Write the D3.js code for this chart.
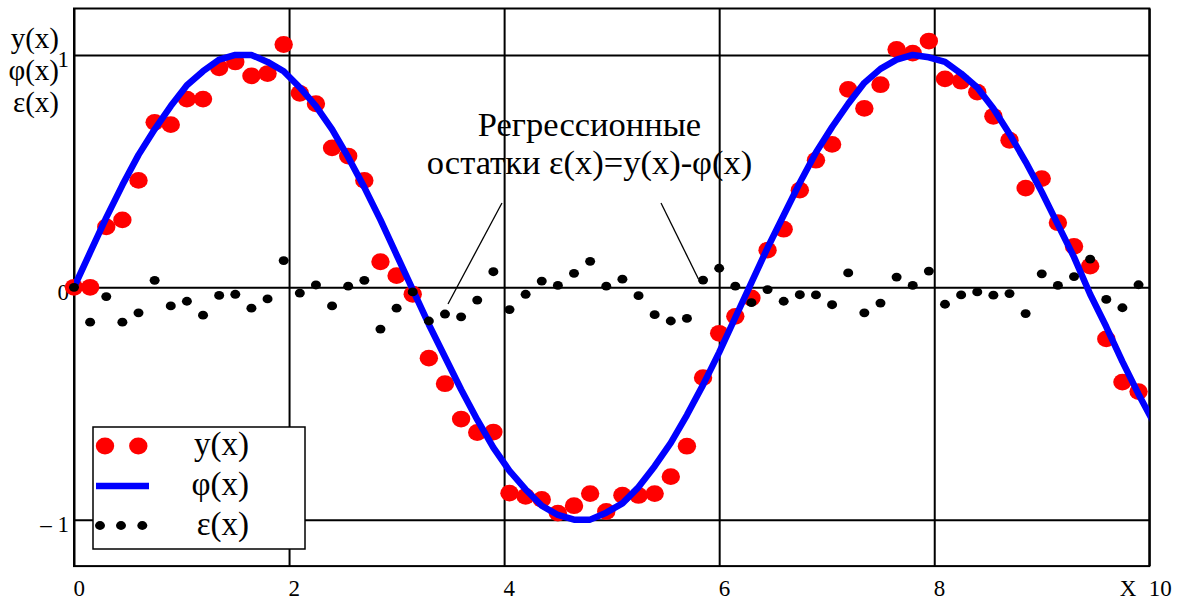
<!DOCTYPE html>
<html>
<head>
<meta charset="utf-8">
<script src="https://cdn.jsdelivr.net/npm/d3@7"></script>
<style>
  body { margin: 0; background: #fff; }
  svg text { font-family: "Liberation Serif", "Times New Roman", serif; fill: #000; }
</style>
</head>
<body>
<svg id="chart" width="1178" height="601"></svg>
<script>
// Sample points x, measured values y(x) and fitted curve φ(x)
const xs = [0, 0.15, 0.3, 0.45, 0.6, 0.75, 0.9, 1.05, 1.2, 1.35, 1.5, 1.65, 1.8, 1.95, 2.1, 2.25, 2.4, 2.55, 2.7, 2.85,
  3, 3.15, 3.3, 3.45, 3.6, 3.75, 3.9, 4.05, 4.2, 4.35, 4.5, 4.65, 4.8, 4.95, 5.1, 5.25, 5.4, 5.55, 5.7, 5.85,
  6, 6.15, 6.3, 6.45, 6.6, 6.75, 6.9, 7.05, 7.2, 7.35, 7.5, 7.65, 7.8, 7.95, 8.1, 8.25, 8.4, 8.55, 8.7, 8.85,
  9, 9.15, 9.3, 9.45, 9.6, 9.75, 9.9, 10.05];

const yObs = [0.00, 0.00, 0.26, 0.29, 0.46, 0.71, 0.70, 0.81, 0.81, 0.945, 0.97, 0.91, 0.92, 1.045, 0.835, 0.79, 0.60, 0.565, 0.46, 0.11,
  0.05, -0.03, -0.305, -0.415, -0.567, -0.625, -0.623, -0.886, -0.90, -0.913, -0.972, -0.94, -0.888, -0.965, -0.895, -0.896, -0.888, -0.815, -0.684, -0.389,
  -0.198, -0.125, -0.046, 0.16, 0.25, 0.418, 0.547, 0.615, 0.852, 0.77, 0.872, 1.024, 1.008, 1.06, 0.897, 0.887, 0.84, 0.736, 0.633, 0.427,
  0.468, 0.278, 0.176, 0.091, -0.222, -0.408, -0.449];

const phi = [0.00, 0.15, 0.30, 0.44, 0.57, 0.68, 0.78, 0.87, 0.93, 0.98, 1.00, 1.00, 0.97, 0.93, 0.86, 0.78, 0.68, 0.56, 0.43, 0.29,
  0.14, -0.01, -0.16, -0.30, -0.44, -0.57, -0.69, -0.79, -0.87, -0.94, -0.98, -1.00, -1.00, -0.97, -0.93, -0.86, -0.77, -0.67, -0.55, -0.42,
  -0.28, -0.13, 0.02, 0.17, 0.31, 0.45, 0.58, 0.69, 0.79, 0.88, 0.94, 0.98, 1.00, 0.99, 0.97, 0.92, 0.86, 0.77, 0.66, 0.54,
  0.41, 0.27, 0.13, -0.03, -0.17, -0.32, -0.46, -0.59];

const xTicks = [0, 2, 4, 6, 8, 10];
const yTicks = [-1, 0, 1];
const axisNames = ["y(x)", "φ(x)", "ε(x)"];
const legendLabels = ["y(x)", "φ(x)", "ε(x)"];
const noteLines = ["Регрессионные", "остатки ε(x)=y(x)-φ(x)"];
// leader lines of the note, in data units: [x1, y1, x2, y2]
const noteLeaders = [[3.98, 0.363, 3.478, -0.072], [5.459, 0.363, 5.807, 0.036]];

// regression residuals ε(x) = y(x) − φ(x)
const eps = yObs.map((v, i) => v - phi[i]);

const RED = "#ff0000", BLUE = "#0000ff", BLACK = "#000000";

const svg = d3.select("#chart");
const x = d3.scaleLinear().domain([0, 10]).range([74, 1149.3]);
const y = d3.scaleLinear().domain([-1.2, 1.2]).range([566.1, 8.5]);
const pLeft = x(0), pRight = x(10), pTop = y(1.2), pBottom = y(-1.2);

svg.append("defs").append("clipPath").attr("id", "plotClip")
  .append("rect").attr("x", pLeft).attr("y", pTop).attr("width", pRight - pLeft).attr("height", pBottom - pTop);

// grid + x labels
const gx = svg.append("g").attr("transform", `translate(0,${pBottom})`)
  .call(d3.axisBottom(x).tickValues(xTicks).tickSize(-(pBottom - pTop)).tickFormat(d3.format("d")));
gx.select(".domain").remove();
gx.selectAll(".tick line").attr("stroke", BLACK).attr("stroke-width", 2);
gx.selectAll(".tick text").attr("text-anchor", "start").attr("x", -1).attr("y", 30).attr("dy", 0)
  .style("font-size", "23px").style("font-family", "'Liberation Serif', serif");

const gy = svg.append("g").attr("transform", `translate(${pLeft},0)`)
  .call(d3.axisLeft(y).tickValues(yTicks).tickSize(-(pRight - pLeft))
    .tickFormat(d => d < 0 ? "– " + Math.abs(d) : String(d)));
gy.select(".domain").remove();
gy.selectAll(".tick line").attr("stroke", BLACK).attr("stroke-width", 2);
gy.selectAll(".tick text").attr("text-anchor", "end").attr("x", -5).attr("y", 12).attr("dy", 0)
  .style("font-size", "23px").style("font-family", "'Liberation Serif', serif");

// frame
svg.append("rect").attr("x", pLeft).attr("y", pTop).attr("width", pRight - pLeft).attr("height", pBottom - pTop)
  .attr("fill", "none").attr("stroke", BLACK).attr("stroke-width", 2);

// x-axis variable name next to the upper limit
svg.append("text").attr("x", x(10) - 13).attr("y", pBottom + 30).attr("text-anchor", "end")
  .style("font-size", "23px").text("X");

// y-axis names
svg.append("g").selectAll("text").data(axisNames).join("text")
  .attr("x", 59).attr("y", (d, i) => 48 + i * 32).attr("text-anchor", "end")
  .style("font-size", "29px").text(d => d);

// y(x): red dots
const idx = d3.range(yObs.length);
svg.append("g").selectAll("ellipse").data(idx).join("ellipse")
  .attr("cx", i => x(xs[i])).attr("cy", i => y(yObs[i])).attr("rx", 9.2).attr("ry", 8.4).attr("fill", RED);

// φ(x): blue curve
svg.append("path").datum(d3.range(phi.length))
  .attr("clip-path", "url(#plotClip)")
  .attr("d", d3.line().x(i => x(xs[i])).y(i => y(phi[i])))
  .attr("fill", "none").attr("stroke", BLUE).attr("stroke-width", 6.5).attr("stroke-linejoin", "round");

// ε(x): black dots
svg.append("g").selectAll("ellipse").data(idx).join("ellipse")
  .attr("cx", i => x(xs[i])).attr("cy", i => y(eps[i])).attr("rx", 5).attr("ry", 4.4).attr("fill", BLACK);

// note with leader lines
svg.append("g").selectAll("line").data(noteLeaders).join("line")
  .attr("x1", d => x(d[0])).attr("y1", d => y(d[1])).attr("x2", d => x(d[2])).attr("y2", d => y(d[3]))
  .attr("stroke", BLACK).attr("stroke-width", 1.3);
svg.append("g").selectAll("text").data(noteLines).join("text")
  .attr("x", 589.5).attr("y", (d, i) => 136 + i * 38).attr("text-anchor", "middle")
  .style("font-size", "34.5px").text(d => d);

// legend
const lg = svg.append("g");
lg.append("rect").attr("x", 93).attr("y", 427).attr("width", 212).attr("height", 122)
  .attr("fill", "#fff").attr("stroke", BLACK).attr("stroke-width", 1.5);
const rows = [446, 486, 525.5];
lg.selectAll("ellipse.r").data([105, 138.3]).join("ellipse").attr("class", "r")
  .attr("cx", d => d).attr("cy", rows[0]).attr("rx", 9.2).attr("ry", 8.4).attr("fill", RED);
lg.append("line").attr("x1", 96).attr("x2", 149).attr("y1", rows[1]).attr("y2", rows[1])
  .attr("stroke", BLUE).attr("stroke-width", 6.5);
lg.selectAll("ellipse.k").data([100, 121, 142.3]).join("ellipse").attr("class", "k")
  .attr("cx", d => d).attr("cy", rows[2]).attr("rx", 5).attr("ry", 4.4).attr("fill", BLACK);
lg.selectAll("text").data(legendLabels).join("text")
  .attr("x", 249).attr("y", (d, i) => rows[i] + 9).attr("text-anchor", "end")
  .style("font-size", "33px").text(d => d);
</script>
</body>
</html>
